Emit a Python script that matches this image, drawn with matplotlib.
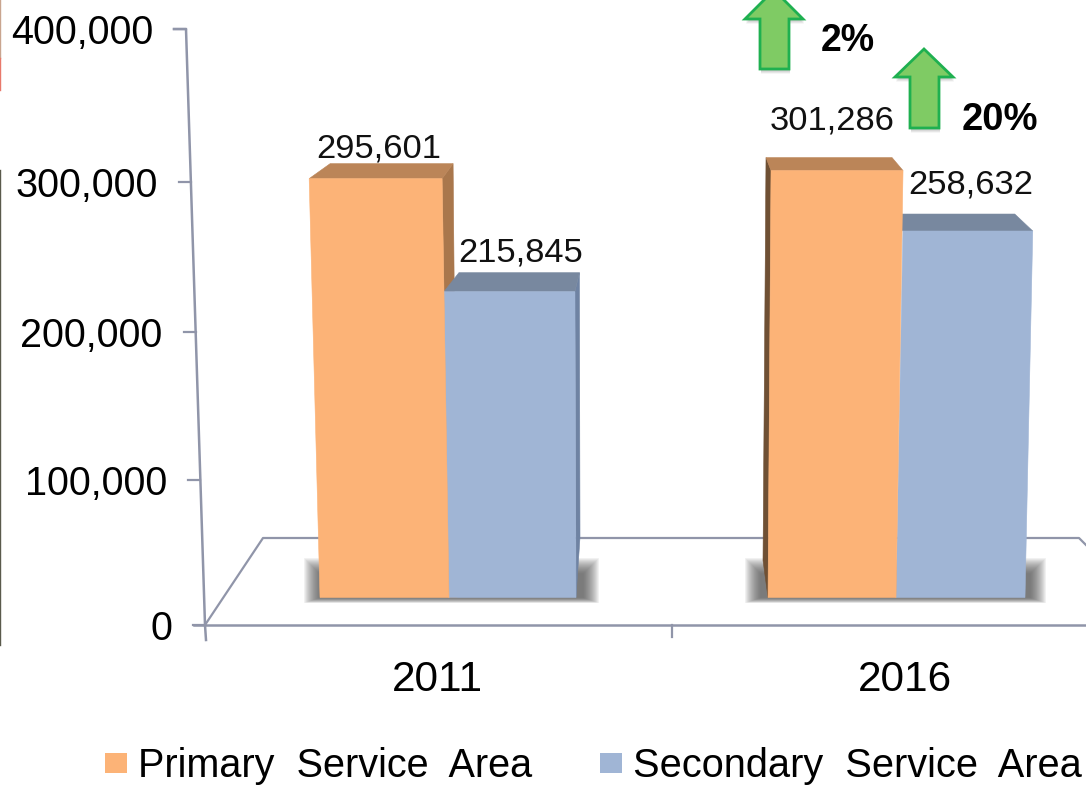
#!/usr/bin/env python3
from __future__ import annotations

import matplotlib.pyplot as plt
from matplotlib.patches import Polygon, Rectangle

plt.rcParams["font.family"] = ["Liberation Sans", "DejaVu Sans"]

years = ["2011", "2016"]
primary = [295601, 301286]
secondary = [215845, 258632]
y_ticks = [0, 100000, 200000, 300000, 400000]
changes = ["2%", "20%"]
series_names = ["Primary  Service  Area", "Secondary  Service  Area"]

ORANGE, ORANGE_TOP, ORANGE_SIDE, ORANGE_DARK = "#fcb377", "#bb8558", "#a9774c", "#6f5034"
BLUE, BLUE_TOP, BLUE_SIDE = "#a0b5d5", "#78889f", "#6f83a3"
AXIS = "#9095a9"

W, H = 1086, 794
BASE_Y = 597.5
PX_PER_UNIT = 0.001417


def tick_y(value: float) -> float:
    # value axis is in perspective, so the ticks bunch up towards the bottom
    u = value / 100000
    return 625 - 143.7 * u / (1 - 0.00887 * u)


def edge_x(base: float, lean: float, value: float) -> float:
    # lean = sideways drift of a bar edge per 300,000 of height
    return base + lean * value / 300000


def face(ax, points, color, zorder=3):
    ax.add_patch(Polygon(points, closed=True, facecolor=color, edgecolor=color, linewidth=0.4, zorder=zorder))


def draw_box(ax, value, left, right, color, top_color, dx_left, dx_right, rise):
    lx, rx = edge_x(left[0], left[1], value), edge_x(right[0], right[1], value)
    rise_v = rise / PX_PER_UNIT
    face(ax, [(lx, value), (lx + dx_left, value + rise_v), (rx + dx_right, value + rise_v), (rx, value)], top_color, 3)
    face(ax, [(left[0], 0), (lx, value), (rx, value), (right[0], 0)], color, 4)
    return lx, rx, rise_v


def shadow(ax, x0, x1, top_px, bottom_px):
    # stacked see-through rectangles stand in for the soft drop shadow
    for i in range(18):
        y_top = (BASE_Y - (top_px + i * 0.9)) / PX_PER_UNIT
        y_bottom = (BASE_Y - (bottom_px - i * 0.3)) / PX_PER_UNIT
        ax.add_patch(Rectangle((x0 + i * 0.9, y_bottom), x1 - x0 - i * 1.8, y_top - y_bottom,
                               facecolor="#4d4d4d", edgecolor="none", alpha=0.065, zorder=1.5, snap=False))


def arrow(ax, cx, tip, wing_y, bottom):
    pts = [(cx, tip), (cx + 29, wing_y), (cx + 15, wing_y), (cx + 15, bottom),
           (cx - 14, bottom), (cx - 14, wing_y), (cx - 29, wing_y)]
    for i in range(4):
        shifted = [(x + 1, y + 1.5 + i) for x, y in pts]
        ax.add_patch(Polygon(shifted, facecolor="#777777", edgecolor="none", alpha=0.12, zorder=6))
    ax.add_patch(Polygon(pts, facecolor="#7fcb64", edgecolor="#1fb050", linewidth=2.0, joinstyle="miter", zorder=7))


fig = plt.figure(figsize=(W / 100, H / 100), dpi=100)

# pixel-space frame for the tilted axis, floor, text
frame = fig.add_axes([0, 0, 1, 1], zorder=1)
frame.set_xlim(0, W)
frame.set_ylim(H, 0)
frame.axis("off")

# value-space axes for the bars
ax = fig.add_axes([0, 0, 1, 1], zorder=2)
ax.set_xlim(0, W)
ax.set_ylim((BASE_Y - H) / PX_PER_UNIT, BASE_Y / PX_PER_UNIT)
ax.axis("off")
ax.patch.set_alpha(0)

top_layer = fig.add_axes([0, 0, 1, 1], zorder=3)
top_layer.set_xlim(0, W)
top_layer.set_ylim(H, 0)
top_layer.axis("off")
top_layer.patch.set_alpha(0)

# scanned-in sliver on the left edge
frame.plot([0.3, 0.3], [0, 58], color="#c9a58f", lw=1)
frame.plot([0.3, 0.3], [58, 90], color="#e8796b", lw=1)
frame.plot([0.3, 0.3], [170, 645], color="#5a5a4c", lw=1)

# axis, floor
frame.plot([174, 186, 205, 206], [tick_y(400000), tick_y(400000), 625, 640], color=AXIS, lw=1.8, solid_joinstyle="round")
frame.plot([194, W], [625, 625], color=AXIS, lw=1.8)
frame.plot([205, 263, W - 7, W], [625, 538, 538, 545], color=AXIS, lw=1.6)
frame.plot([672, 672], [625, 637], color=AXIS, lw=1.6)
for v in y_ticks:
    y = tick_y(v)
    ax_x = 205 - 19 * (625 - y) / 596
    frame.plot([ax_x - 12, ax_x], [y, y], color=AXIS, lw=1.6)
    frame.text(ax_x - 33, y, f"{v:,}", ha="right", va="center_baseline", fontsize=28.5, color="black")

for x, label in zip([437.5, 905], years):
    frame.text(x, 680, label, ha="center", va="center", fontsize=30.5, color="black")

shadow(ax, 304, 599, 558, 603)
shadow(ax, 745, 1046, 558, 603)

# 2011 - light falls so the sides show on the right
p, s = primary[0], secondary[0]
px_r = edge_x(449, -7, p)
face(ax, [(px_r, p), (px_r + 11, p + 15 / PX_PER_UNIT), (457, 0), (449, 0)], ORANGE_SIDE, 2.5)
sx_r = edge_x(576, -1.5, s)
face(ax, [(sx_r, s), (sx_r + 4.5, s + 19 / PX_PER_UNIT), (580, 60 / PX_PER_UNIT), (576, 0)], BLUE_SIDE, 2.5)
draw_box(ax, s, (449, -7), (576, -1.5), BLUE, BLUE_TOP, 15, 4.5, 19)
draw_box(ax, p, (320, -11), (449, -7), ORANGE, ORANGE_TOP, 21, 11, 15)

# 2016 - sides show on the left
p, s = primary[1], secondary[1]
px_l = edge_x(768, 3, p)
face(ax, [(px_l, p), (px_l - 5, p + 13 / PX_PER_UNIT), (763, 37 / PX_PER_UNIT), (768, 0)], ORANGE_DARK, 2.5)
draw_box(ax, s, (896, 8), (1025, 9), BLUE, BLUE_TOP, -18, -18, 17)
draw_box(ax, p, (768, 3), (896, 7), ORANGE, ORANGE_TOP, -5, -11, 13)

# value labels
for x, y, v in [(379, 146, primary[0]), (521, 250, secondary[0]), (832, 117, primary[1]), (971, 182, secondary[1])]:
    top_layer.text(x, y, f"{v:,}", ha="center", va="center_baseline", fontsize=24.8, color="#111111")

arrow(top_layer, 774, -10, 19, 69)
arrow(top_layer, 924, 49, 77, 128)
top_layer.text(848, 37, changes[0], ha="center", va="center_baseline", fontsize=27, fontweight="bold", color="black")
top_layer.text(1000, 116, changes[1], ha="center", va="center_baseline", fontsize=27.5, fontweight="bold", color="black")

# legend
frame.add_patch(Rectangle((105, 753), 22, 20, facecolor=ORANGE, edgecolor="none"))
frame.add_patch(Rectangle((600, 753), 22, 20, facecolor=BLUE, edgecolor="none"))
frame.text(138, 777, series_names[0], ha="left", va="baseline", fontsize=28.5, color="black")
frame.text(633, 777, series_names[1], ha="left", va="baseline", fontsize=28.6, color="black")

fig.savefig("out.png", dpi=100)
plt.close(fig)
